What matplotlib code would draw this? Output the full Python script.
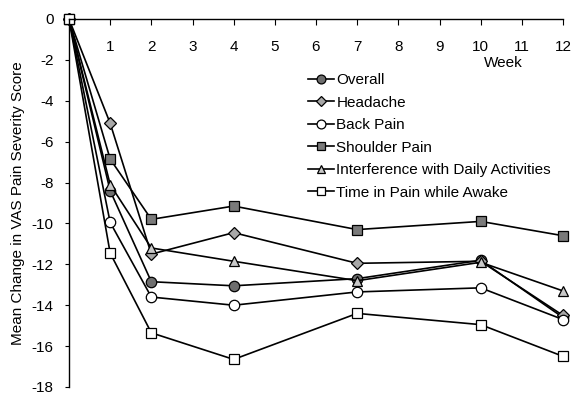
import matplotlib
matplotlib.use("Agg")
import matplotlib.pyplot as plt

plt.rcParams['font.family'] = ['Liberation Sans', 'DejaVu Sans']
plt.rcParams['axes.unicode_minus'] = False

weeks = [0, 1, 2, 4, 7, 10, 12]
overall = [0, -8.4, -12.85, -13.05, -12.7, -11.8, -14.6]
headache = [0, -5.1, -11.5, -10.45, -11.95, -11.85, -14.5]
back_pain = [0, -9.95, -13.6, -14.0, -13.35, -13.15, -14.7]
shoulder_pain = [0, -6.85, -9.8, -9.15, -10.3, -9.9, -10.6]
interference = [0, -8.1, -11.2, -11.85, -12.8, -11.9, -13.3]
time_awake = [0, -11.45, -15.35, -16.65, -14.4, -14.95, -16.5]

labels = ["Overall", "Headache", "Back Pain", "Shoulder Pain",
          "Interference with Daily Activities", "Time in Pain while Awake"]
series = [overall, headache, back_pain, shoulder_pain, interference, time_awake]
markers = ['o', 'D', 'o', 's', '^', 's']
faces = ['#6e6e6e', '#a8a8a8', 'white', '#7a7a7a', '#c8c8c8', 'white']
sizes = [7.5, 6, 7.5, 7.5, 7.5, 7.5]

xticks = list(range(1, 13))
yticks = list(range(0, -19, -2))

fs = 11

fig = plt.figure(figsize=(5.74, 3.95), dpi=100)
ax = fig.add_axes([69/574, 1-387/395, (563-69)/574, (387-19)/395])

handles = []
for s, lab, m, fc, ms in zip(series, labels, markers, faces, sizes):
    h, = ax.plot(weeks, s, color='black', lw=1.2, marker=m, markersize=ms,
                 markerfacecolor=fc, markeredgecolor='black', markeredgewidth=0.9,
                 label=lab, clip_on=False)
    handles.append(h)

ax.set_xlim(0, 12)
ax.set_ylim(-18, 0)
ax.spines['bottom'].set_visible(False)
ax.spines['right'].set_visible(False)
ax.spines['top'].set_linewidth(1.0)
ax.spines['left'].set_linewidth(1.0)

ax.set_xticks(xticks)
ax.set_xticklabels([str(t) for t in xticks])
ax.tick_params(axis='x', top=True, bottom=False, labeltop=True, labelbottom=False,
               direction='in', length=4, pad=-25, labelsize=fs)
ax.set_yticks(yticks)
ax.set_yticklabels([str(t) for t in yticks])
ax.tick_params(axis='y', direction='out', length=3, labelsize=fs, pad=8)

ax.set_ylabel("Mean Change in VAS Pain Severity Score", fontsize=fs, labelpad=5)

fig.text(503/574, 1-63/395, "Week", ha='center', va='center', fontsize=fs)

fig.legend(handles=handles, loc='upper left', bbox_to_anchor=(308/574, 1-73/395),
           frameon=False, fontsize=fs, handlelength=1.7, handletextpad=0.15,
           labelspacing=0.56, borderpad=0, borderaxespad=0, markerscale=0.85)

fig.savefig("out.png", dpi=100)
